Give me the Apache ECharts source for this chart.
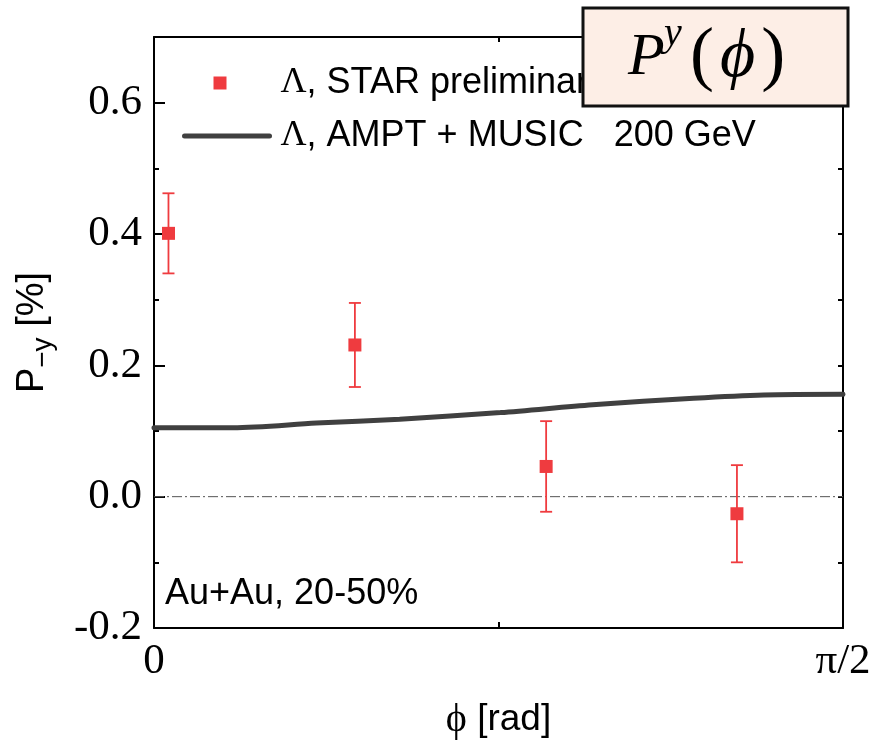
<!DOCTYPE html>
<html>
<head>
<meta charset="UTF-8">
<title>P^y(phi)</title>
<style>
html, body { margin: 0; padding: 0; background: #fff; }
#main { width: 875px; height: 747px; }
</style>
</head>
<body>
<div id="main"></div>
<script src="https://cdn.jsdelivr.net/npm/echarts@6/dist/echarts.min.js"></script>
<script>
var HALF_PI = Math.PI / 2;

// STAR preliminary: phi [rad], P_-y [%], error
var starPhi = [0.033, 0.458, 0.894, 1.329];
var starP = [0.401, 0.231, 0.046, -0.026];
var starErr = [0.061, 0.064, 0.069, 0.074];

// AMPT + MUSIC curve
var modelPhi = [0, 0.18, 0.37, 0.56, 0.79, 1.0, 1.23, 1.39, HALF_PI];
var modelP = [0.105, 0.105, 0.112, 0.118, 0.128, 0.140, 0.150, 0.155, 0.156];

var yTicks = [-0.2, 0.0, 0.2, 0.4, 0.6];

var serif = "'Liberation Serif', 'Times New Roman', serif";
var sans = "'Liberation Sans', Arial, sans-serif";
var red = '#ef3b3f';

var starData = starPhi.map(function (x, i) { return [x, starP[i], starErr[i]]; });
var modelData = modelPhi.map(function (x, i) { return [x, modelP[i]]; });

var myChart = echarts.init(document.getElementById('main'));

// square legend marker inside the 85x13 icon box
var squareIcon = 'path://M0,0L0,0M85,13L85,13M29,0L42,0L42,13L29,13Z';

var option = {
	backgroundColor: '#fff',
	animation: false,
	grid: { left: 154, right: 32, top: 37, bottom: 119, containLabel: false },
	legend: {
		orient: 'vertical',
		left: 177,
		top: 58,
		itemWidth: 85,
		itemHeight: 13,
		itemGap: 13,
		selectedMode: false,
		data: [
			{ name: 'STAR', icon: squareIcon },
			{ name: 'AMPT', itemStyle: { opacity: 0 }, lineStyle: { width: 5, color: '#404040', cap: 'round' } }
		],
		formatter: function (n) {
			return n === 'STAR' ? '{g|Λ}, STAR preliminary' : '{g|Λ}, AMPT + MUSIC   200 GeV';
		},
		textStyle: {
			fontFamily: sans, fontSize: 36, color: '#000', lineHeight: 40,
			padding: [0, 0, 0, 6],
			rich: { g: { fontFamily: serif, fontSize: 36, lineHeight: 40, color: '#000' } }
		}
	},
	xAxis: [{
		type: 'value', position: 'bottom', min: 0, max: HALF_PI, interval: Math.PI / 4,
		axisLine: { show: true, onZero: false, lineStyle: { color: '#000', width: 2 } },
		axisTick: { show: true, inside: true, length: 6, lineStyle: { color: '#000', width: 2 } },
		splitLine: { show: false },
		axisLabel: {
			show: true, margin: 12, fontFamily: serif, fontSize: 43, color: '#000',
			showMinLabel: true, showMaxLabel: true,
			formatter: function (v) {
				if (Math.abs(v) < 1e-3) return '0';
				if (Math.abs(v - HALF_PI) < 1e-3) return 'π/2';
				return '';
			}
		},
		name: '{g|ϕ} [rad]',
		nameLocation: 'middle',
		nameGap: 72,
		nameTextStyle: {
			fontFamily: sans, fontSize: 37, color: '#000',
			rich: { g: { fontFamily: serif, fontSize: 40, color: '#000' } }
		}
	}, {
		type: 'value', position: 'top', min: 0, max: HALF_PI, interval: Math.PI / 4,
		axisLine: { show: true, onZero: false, lineStyle: { color: '#000', width: 2 } },
		axisTick: { show: true, inside: true, length: 5, lineStyle: { color: '#000', width: 2 } },
		axisLabel: { show: false },
		splitLine: { show: false }
	}],
	yAxis: [{
		type: 'value', position: 'left', min: -0.2, max: 0.7, interval: 0.2,
		axisLine: { show: true, onZero: false, lineStyle: { color: '#000', width: 2 } },
		axisTick: { show: true, inside: true, length: 11, lineStyle: { color: '#000', width: 2 } },
		splitLine: { show: false },
		axisLabel: {
			margin: 12, fontFamily: serif, fontSize: 43, color: '#000',
			formatter: function (v) {
				for (var i = 0; i < yTicks.length; i++) {
					if (Math.abs(v - yTicks[i]) < 1e-6) return yTicks[i].toFixed(1);
				}
				return '';
			}
		},
		name: '{a|P}{s|−y} [%]',
		nameLocation: 'middle',
		nameRotate: 90,
		nameGap: 98,
		nameTextStyle: {
			fontFamily: sans, fontSize: 38, color: '#000', lineHeight: 46,
			rich: {
				a: { fontFamily: sans, fontSize: 38, lineHeight: 46, color: '#000' },
				s: { fontFamily: sans, fontSize: 28, lineHeight: 26, padding: [20, 0, 0, 0], color: '#000' }
			}
		}
	}, {
		type: 'value', position: 'right', min: -0.2, max: 0.7, interval: 0.1,
		axisLine: { show: true, onZero: false, lineStyle: { color: '#000', width: 2 } },
		axisTick: { show: true, inside: true, length: 5, lineStyle: { color: '#000', width: 2 } },
		axisLabel: { show: false },
		splitLine: { show: false }
	}, {
		// minor ticks on the left
		type: 'value', position: 'left', min: -0.2, max: 0.7, interval: 0.1,
		axisLine: { show: false },
		axisTick: { show: true, inside: true, length: 5, lineStyle: { color: '#000', width: 2 } },
		axisLabel: { show: false },
		splitLine: { show: false }
	}],
	series: [{
		// dash-dot zero line
		type: 'line',
		data: [[0, 0], [HALF_PI, 0]],
		symbol: 'none',
		silent: true,
		z: 1,
		lineStyle: { color: '#555', width: 1, type: [10, 3, 2, 3] }
	}, {
		name: 'AMPT',
		type: 'line',
		data: modelData,
		smooth: 0.3,
		symbol: 'none',
		z: 3,
		itemStyle: { color: '#404040' },
		lineStyle: { color: '#404040', width: 5, cap: 'round' }
	}, {
		type: 'custom',
		data: starData,
		z: 4,
		silent: true,
		renderItem: function (params, api) {
			var x = api.value(0), y = api.value(1), e = api.value(2);
			var top = api.coord([x, y + e]);
			var bot = api.coord([x, y - e]);
			var cap = 6;
			var st = { stroke: red, lineWidth: 1.8 };
			return {
				type: 'group',
				children: [
					{ type: 'line', shape: { x1: top[0], y1: top[1], x2: bot[0], y2: bot[1] }, style: st },
					{ type: 'line', shape: { x1: top[0] - cap, y1: top[1], x2: top[0] + cap, y2: top[1] }, style: st },
					{ type: 'line', shape: { x1: bot[0] - cap, y1: bot[1], x2: bot[0] + cap, y2: bot[1] }, style: st }
				]
			};
		}
	}, {
		name: 'STAR',
		type: 'scatter',
		data: starData,
		symbol: 'rect',
		symbolSize: 13,
		z: 5,
		itemStyle: { color: red, opacity: 1 }
	}],
	graphic: [{
		type: 'text', left: 165, top: 576, z: 10,
		style: { text: 'Au+Au, 20-50%', fontFamily: sans, fontSize: 36, fill: '#000' }
	}, {
		type: 'group', z: 100,
		children: [{
			type: 'rect', z: 100,
			shape: { x: 583, y: 8, width: 265, height: 98 },
			style: { fill: '#fdeee6', stroke: '#111', lineWidth: 3 }
		}, {
			type: 'text', z: 101, x: 628, y: 58,
			style: { text: 'P', fontFamily: serif, fontStyle: 'italic', fontSize: 60, fill: '#000', verticalAlign: 'middle', align: 'left' }
		}, {
			type: 'text', z: 101, x: 664, y: 34,
			style: { text: 'y', fontFamily: serif, fontStyle: 'italic', fontSize: 40, fill: '#000', verticalAlign: 'middle', align: 'left' }
		}, {
			type: 'text', z: 101, x: 690, y: 58,
			style: {
				text: '{p|(}{f|ϕ}{p|)}', fill: '#000', verticalAlign: 'middle', align: 'left',
				rich: {
					p: { fontFamily: serif, fontSize: 72, fill: '#000' },
					f: { fontFamily: serif, fontStyle: 'italic', fontSize: 68, fill: '#000', padding: [0, 6, 0, 6] }
				}
			}
		}]
	}]
};

myChart.setOption(option);
</script>
</body>
</html>
